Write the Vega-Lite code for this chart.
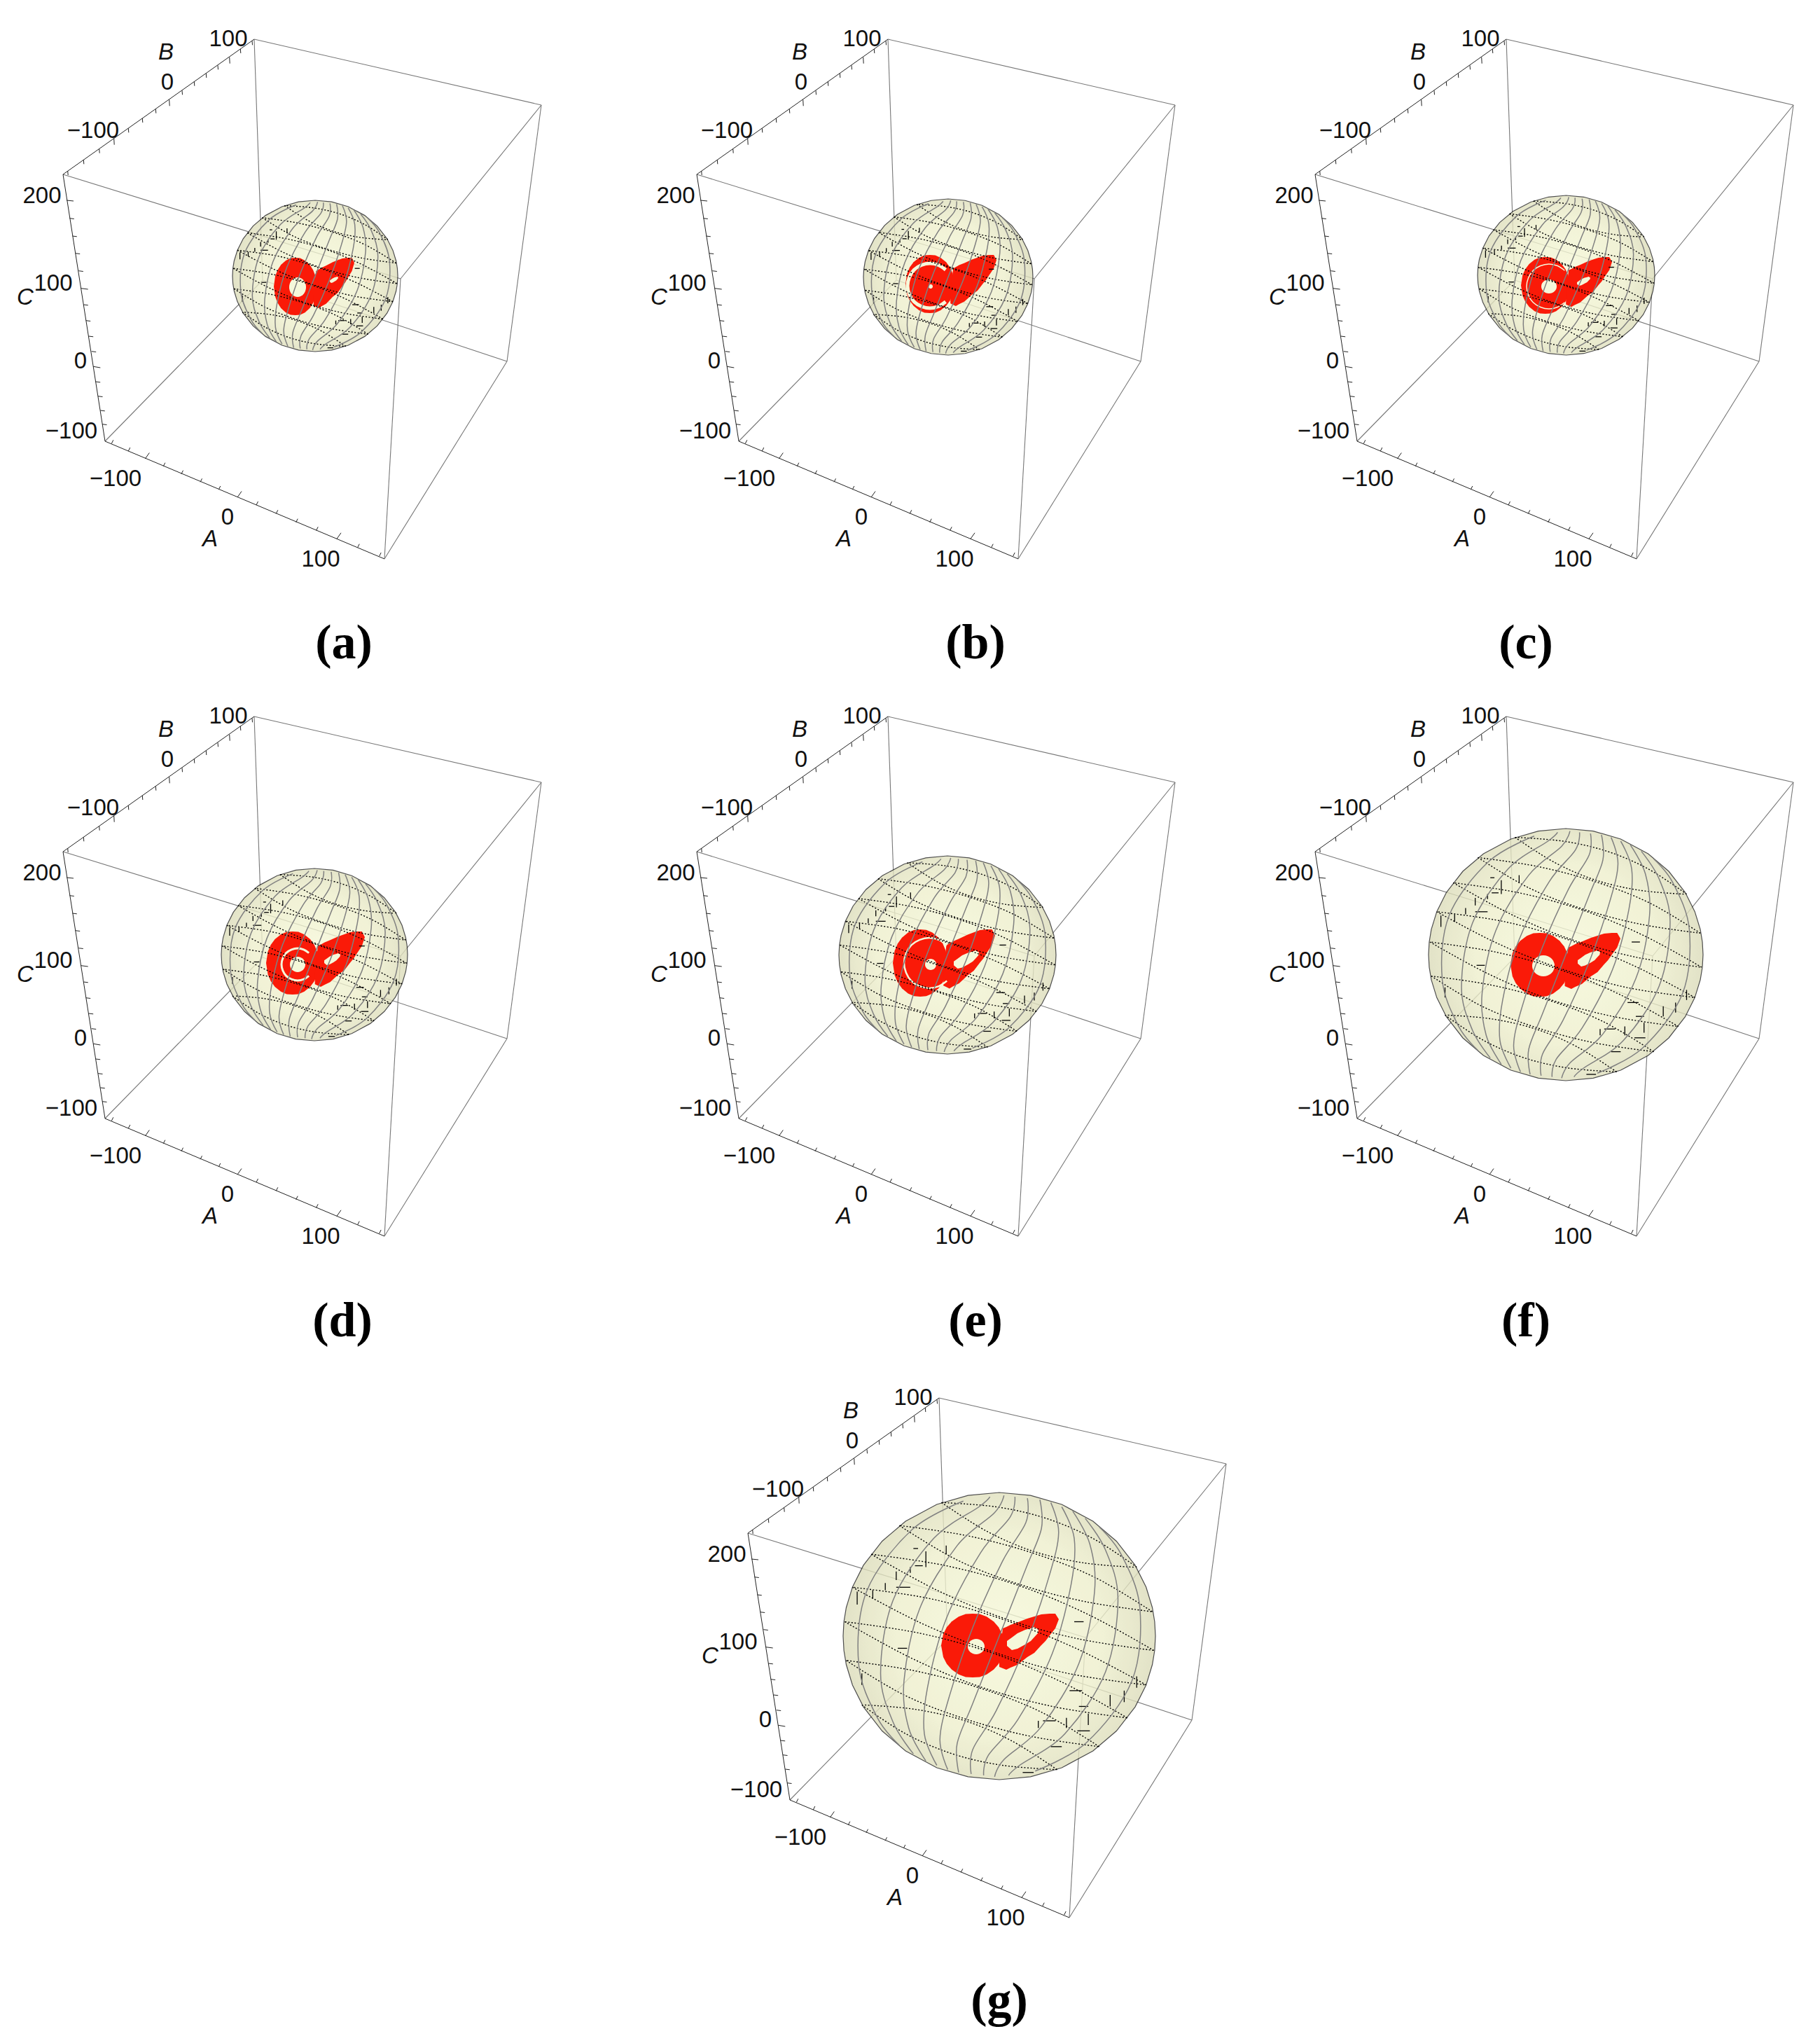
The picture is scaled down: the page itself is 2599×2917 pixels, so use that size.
{"$schema":"https://vega.github.io/schema/vega-lite/v6.json","width":2599,"height":2917,"padding":0,"autosize":"none","background":"white","config":{"view":{"stroke":null},"axis":{"disable":true},"legend":{"disable":true},"line":{"order":false}},"resolve":{"scale":{"x":"independent","y":"independent"}},
"datasets":{
"g":[{"x":363,"y":56,"u":773,"v":150},{"x":773,"y":150,"u":572,"v":398},{"x":90,"y":249,"u":572,"v":398},{"x":363,"y":56,"u":375,"v":400},{"x":773,"y":150,"u":724,"v":516},{"x":572,"y":398,"u":549,"v":798},{"x":150,"y":630,"u":375,"v":400},{"x":549,"y":798,"u":724,"v":516},{"x":724,"y":516,"u":375,"v":400}],
"k":[{"x":90,"y":249,"u":363,"v":56},{"x":90,"y":249,"u":150,"v":630},{"x":150,"y":630,"u":549,"v":798},
{"x":96.7,"y":244,"u":97.2,"v":250},{"x":119.3,"y":228.3,"u":119.8,"v":234.3},{"x":141.7,"y":212.7,"u":142.2,"v":218.7},{"x":162.7,"y":197.7,"u":163.2,"v":206.7},{"x":183.3,"y":183.3,"u":183.8,"v":189.3},{"x":203.3,"y":169,"u":203.8,"v":175},{"x":222.3,"y":155.7,"u":222.8,"v":161.7},{"x":241.7,"y":142.3,"u":242.2,"v":151.3},{"x":260,"y":129.3,"u":260.5,"v":135.3},{"x":277.3,"y":116.7,"u":277.8,"v":122.7},{"x":294.3,"y":105,"u":294.8,"v":111},{"x":311,"y":93.3,"u":311.5,"v":99.3},{"x":327.7,"y":81.7,"u":328.2,"v":90.7},{"x":343.3,"y":70,"u":343.8,"v":76},{"x":360,"y":58.3,"u":360.5,"v":64.3},
{"x":95,"y":286,"u":105,"v":287},{"x":99.3,"y":311.7,"u":105.8,"v":312.5},{"x":103.3,"y":337,"u":109.8,"v":337.8},{"x":107.7,"y":361.7,"u":114.2,"v":362.5},{"x":112.3,"y":386.7,"u":118.8,"v":387.5},{"x":115.7,"y":411.7,"u":125.7,"v":413},{"x":119.3,"y":435,"u":125.8,"v":435.8},{"x":122.7,"y":457.7,"u":129.2,"v":458.5},{"x":126.7,"y":480,"u":133.2,"v":480.8},{"x":130.7,"y":501.7,"u":137.2,"v":502.5},{"x":133.3,"y":523.3,"u":143.3,"v":525},{"x":136.7,"y":545,"u":143.2,"v":545.8},{"x":140,"y":565.7,"u":146.5,"v":566.5},{"x":143.3,"y":586,"u":149.8,"v":586.8},{"x":146,"y":605.7,"u":152.5,"v":606.5},
{"x":159.3,"y":633.3,"u":161.8,"v":628.3},{"x":183.3,"y":644,"u":185.8,"v":639},{"x":207.3,"y":655,"u":213.3,"v":646.5},{"x":233.3,"y":665.7,"u":235.8,"v":660.7},{"x":259,"y":676.7,"u":261.5,"v":671.7},{"x":286,"y":688.3,"u":288.5,"v":683.3},{"x":312.3,"y":699,"u":314.8,"v":694},{"x":339,"y":710,"u":345,"v":701.5},{"x":366,"y":721,"u":368.5,"v":716},{"x":394.3,"y":733.3,"u":396.8,"v":728.3},{"x":422.7,"y":745.7,"u":425.2,"v":740.7},{"x":451.7,"y":757.3,"u":454.2,"v":752.3},{"x":481,"y":769.3,"u":487,"v":760.8},{"x":510.7,"y":781.7,"u":513.2,"v":776.7},{"x":541.7,"y":794,"u":544.2,"v":789}],
"n":[{"x":326,"y":56,"s":"100"},{"x":239,"y":118,"s":"0"},{"x":133,"y":187,"s":"−100"},{"x":60,"y":280,"s":"200"},{"x":76,"y":405,"s":"100"},{"x":115,"y":516,"s":"0"},{"x":102,"y":616,"s":"−100"},{"x":165,"y":684,"s":"−100"},{"x":325,"y":739,"s":"0"},{"x":458,"y":799,"s":"100"}],
"i":[{"x":237,"y":75,"s":"B"},{"x":36,"y":425,"s":"C"},{"x":300,"y":770,"s":"A"}],
"cap":[{"x":491,"y":919,"s":"(a)"},{"x":1393,"y":919,"s":"(b)"},{"x":2179,"y":919,"s":"(c)"},{"x":489,"y":1887,"s":"(d)"},{"x":1393,"y":1887,"s":"(e)"},{"x":2179,"y":1887,"s":"(f)"},{"x":1427,"y":2858,"s":"(g)"}],
"o":[{"x":-1,"y":0,"v":0},{"x":-0.995,"y":-0.1,"v":0.1},{"x":-0.98,"y":-0.199,"v":0.199},{"x":-0.94,"y":-0.341,"v":0.341},{"x":-0.87,"y":-0.493,"v":0.493},{"x":-0.75,"y":-0.661,"v":0.661},{"x":-0.6,"y":-0.8,"v":0.8},{"x":-0.4,"y":-0.917,"v":0.917},{"x":-0.2,"y":-0.98,"v":0.98},{"x":0,"y":-1,"v":1},{"x":0.2,"y":-0.98,"v":0.98},{"x":0.4,"y":-0.917,"v":0.917},{"x":0.6,"y":-0.8,"v":0.8},{"x":0.75,"y":-0.661,"v":0.661},{"x":0.87,"y":-0.493,"v":0.493},{"x":0.94,"y":-0.341,"v":0.341},{"x":0.98,"y":-0.199,"v":0.199},{"x":0.995,"y":-0.1,"v":0.1},{"x":1,"y":0,"v":0}],
"r":[{"s":1,"x":0,"y":45.5,"v":45.5},{"s":1,"x":3,"y":29,"v":62},{"s":1,"x":8,"y":19.3,"v":71.7},{"s":1,"x":15,"y":11.2,"v":79.8},{"s":1,"x":25,"y":4.3,"v":86.7},{"s":1,"x":35,"y":0.6,"v":90.4},{"s":1,"x":45,"y":0,"v":91},{"s":1,"x":55,"y":0.6,"v":90.4},{"s":1,"x":65,"y":4.3,"v":86.7},{"s":1,"x":75,"y":11.2,"v":79.8},{"s":1,"x":82,"y":19.3,"v":71.7},{"s":1,"x":87,"y":29,"v":62},{"s":1,"x":90,"y":45.5,"v":45.5},
{"s":2,"x":83,"y":60,"v":76},{"s":2,"x":88,"y":21,"v":78},{"s":2,"x":93,"y":19,"v":80},{"s":2,"x":99,"y":16,"v":77},{"s":2,"x":109,"y":12.5,"v":73},{"s":2,"x":123,"y":7,"v":62},{"s":2,"x":133,"y":4,"v":56},{"s":2,"x":143,"y":1,"v":45},{"s":2,"x":149,"y":0.5,"v":39},{"s":2,"x":155,"y":0,"v":31},{"s":2,"x":163,"y":0,"v":21},{"s":2,"x":168,"y":8,"v":8}],
"q":[{"x":94,"y":39,"v":46},{"x":101,"y":34,"v":52},{"x":109,"y":28,"v":50},{"x":120,"y":23,"v":44},{"x":128,"y":21,"v":39},{"x":133,"y":19,"v":33.5},{"x":138,"y":22,"v":28},{"x":139,"y":23,"v":23}],
"c":[{"x":0.7,"y":-0.71},{"x":0.38,"y":-0.92},{"x":0,"y":-1},{"x":-0.38,"y":-0.92},{"x":-0.71,"y":-0.71},{"x":-0.92,"y":-0.38},{"x":-1,"y":0},{"x":-0.92,"y":0.38},{"x":-0.71,"y":0.71},{"x":-0.38,"y":0.92},{"x":0,"y":1},{"x":0.38,"y":0.92},{"x":0.7,"y":0.71}],
"b":[{"x":-0.54,"u":-0.49,"y":-0.49,"v":-0.49},{"x":-0.65,"u":-0.59,"y":0.085,"v":0.085},{"x":-0.66,"u":-0.57,"y":-0.34,"v":-0.34},{"x":-0.55,"u":-0.52,"y":-0.61,"v":-0.61},{"x":0.48,"u":0.54,"y":-0.1,"v":-0.1},{"x":0.45,"u":0.53,"y":0.38,"v":0.38},{"x":0.5,"u":0.58,"y":0.66,"v":0.66},{"x":0.33,"u":0.4,"y":0.77,"v":0.77},{"x":0.15,"u":0.22,"y":0.95,"v":0.95},{"x":0.51,"u":0.57,"y":0.49,"v":0.49},{"x":0.28,"u":0.36,"y":0.59,"v":0.59},
{"x":-0.66,"u":-0.66,"y":-0.45,"v":-0.39},{"x":-0.57,"u":-0.57,"y":-0.48,"v":-0.44},{"x":-0.73,"u":-0.73,"y":-0.37,"v":-0.32},{"x":-0.81,"u":-0.81,"y":-0.32,"v":-0.26},{"x":-0.88,"u":-0.88,"y":0.26,"v":0.34},{"x":-0.91,"u":-0.91,"y":-0.31,"v":-0.22},{"x":-0.47,"u":-0.47,"y":-0.59,"v":-0.48},{"x":0.8,"u":0.8,"y":0.38,"v":0.46},{"x":0.71,"u":0.71,"y":0.41,"v":0.49},{"x":0.43,"u":0.43,"y":0.57,"v":0.64},{"x":0.57,"u":0.57,"y":0.54,"v":0.62},{"x":0.25,"u":0.25,"y":0.59,"v":0.64},{"x":0.88,"u":0.88,"y":0.28,"v":0.36},{"x":-0.34,"u":-0.34,"y":-0.63,"v":-0.57}],
"m":[{"l":1,"x":-0.23,"y":-0.94},{"l":1,"x":-0.56,"y":-0.74},{"l":1,"x":-0.85,"y":-0.31},{"l":1,"x":-0.9,"y":0.2},{"l":1,"x":-0.78,"y":0.57},{"l":1,"x":-0.64,"y":0.76},
{"l":2,"x":-0.06,"y":-0.97},{"l":2,"x":-0.13,"y":-0.9},{"l":2,"x":-0.42,"y":-0.68},{"l":2,"x":-0.68,"y":-0.25},{"l":2,"x":-0.76,"y":0.26},{"l":2,"x":-0.68,"y":0.6},{"l":2,"x":-0.55,"y":0.82},
{"l":3,"x":0.03,"y":-0.98},{"l":3,"x":-0.03,"y":-0.86},{"l":3,"x":-0.27,"y":-0.63},{"l":3,"x":-0.51,"y":-0.19},{"l":3,"x":-0.61,"y":0.31},{"l":3,"x":-0.58,"y":0.64},{"l":3,"x":-0.47,"y":0.87},
{"l":4,"x":0.1,"y":-0.97},{"l":4,"x":0.07,"y":-0.83},{"l":4,"x":-0.12,"y":-0.58},{"l":4,"x":-0.34,"y":-0.12},{"l":4,"x":-0.46,"y":0.36},{"l":4,"x":-0.48,"y":0.68},{"l":4,"x":-0.4,"y":0.9},
{"l":5,"x":0.18,"y":-0.96},{"l":5,"x":0.17,"y":-0.79},{"l":5,"x":0.02,"y":-0.52},{"l":5,"x":-0.17,"y":-0.06},{"l":5,"x":-0.32,"y":0.42},{"l":5,"x":-0.38,"y":0.72},{"l":5,"x":-0.33,"y":0.93},
{"l":6,"x":0.26,"y":-0.95},{"l":6,"x":0.27,"y":-0.75},{"l":6,"x":0.17,"y":-0.47},{"l":6,"x":0,"y":0},{"l":6,"x":-0.17,"y":0.47},{"l":6,"x":-0.27,"y":0.75},{"l":6,"x":-0.26,"y":0.95},
{"l":7,"x":0.33,"y":-0.93},{"l":7,"x":0.38,"y":-0.72},{"l":7,"x":0.32,"y":-0.42},{"l":7,"x":0.17,"y":0.06},{"l":7,"x":-0.02,"y":0.52},{"l":7,"x":-0.17,"y":0.79},{"l":7,"x":-0.18,"y":0.96},
{"l":8,"x":0.4,"y":-0.9},{"l":8,"x":0.48,"y":-0.68},{"l":8,"x":0.46,"y":-0.36},{"l":8,"x":0.34,"y":0.12},{"l":8,"x":0.12,"y":0.58},{"l":8,"x":-0.07,"y":0.83},{"l":8,"x":-0.1,"y":0.97},
{"l":9,"x":0.47,"y":-0.87},{"l":9,"x":0.58,"y":-0.64},{"l":9,"x":0.61,"y":-0.31},{"l":9,"x":0.51,"y":0.19},{"l":9,"x":0.27,"y":0.63},{"l":9,"x":0.03,"y":0.86},{"l":9,"x":-0.03,"y":0.98},
{"l":10,"x":0.55,"y":-0.82},{"l":10,"x":0.68,"y":-0.6},{"l":10,"x":0.76,"y":-0.26},{"l":10,"x":0.68,"y":0.25},{"l":10,"x":0.42,"y":0.68},{"l":10,"x":0.13,"y":0.9},{"l":10,"x":0.06,"y":0.97},
{"l":11,"x":0.64,"y":-0.76},{"l":11,"x":0.78,"y":-0.57},{"l":11,"x":0.9,"y":-0.2},{"l":11,"x":0.85,"y":0.31},{"l":11,"x":0.56,"y":0.74},{"l":11,"x":0.23,"y":0.94}],
"d":[{"l":1,"x":-0.37,"y":-0.93},{"l":1,"x":-0.08,"y":-0.73},{"l":1,"x":0.22,"y":-0.59},{"l":1,"x":0.54,"y":-0.51},{"l":1,"x":0.86,"y":-0.48},
{"l":2,"x":-0.64,"y":-0.77},{"l":2,"x":-0.27,"y":-0.53},{"l":2,"x":0.13,"y":-0.36},{"l":2,"x":0.55,"y":-0.24},{"l":2,"x":0.98,"y":-0.17},
{"l":3,"x":-0.82,"y":-0.57},{"l":3,"x":-0.4,"y":-0.32},{"l":3,"x":0.04,"y":-0.12},{"l":3,"x":0.51,"y":0.02},{"l":3,"x":0.99,"y":0.1},
{"l":4,"x":-0.94,"y":-0.34},{"l":4,"x":-0.5,"y":-0.09},{"l":4,"x":-0.04,"y":0.11},{"l":4,"x":0.44,"y":0.26},{"l":4,"x":0.94,"y":0.34},
{"l":5,"x":-0.99,"y":-0.1},{"l":5,"x":-0.57,"y":0.15},{"l":5,"x":-0.13,"y":0.35},{"l":5,"x":0.34,"y":0.49},{"l":5,"x":0.82,"y":0.57},
{"l":6,"x":-0.98,"y":0.17},{"l":6,"x":-0.61,"y":0.41},{"l":6,"x":-0.21,"y":0.58},{"l":6,"x":0.21,"y":0.7},{"l":6,"x":0.64,"y":0.77},
{"l":7,"x":-0.88,"y":0.48},{"l":7,"x":-0.6,"y":0.68},{"l":7,"x":-0.3,"y":0.82},{"l":7,"x":0.02,"y":0.9},{"l":7,"x":0.37,"y":0.93},
{"l":8,"x":0.37,"y":0.93},{"l":8,"x":0.08,"y":0.73},{"l":8,"x":-0.22,"y":0.59},{"l":8,"x":-0.54,"y":0.51},{"l":8,"x":-0.86,"y":0.48},
{"l":9,"x":0.64,"y":0.77},{"l":9,"x":0.27,"y":0.53},{"l":9,"x":-0.13,"y":0.36},{"l":9,"x":-0.55,"y":0.24},{"l":9,"x":-0.98,"y":0.17},
{"l":10,"x":0.82,"y":0.57},{"l":10,"x":0.4,"y":0.32},{"l":10,"x":-0.04,"y":0.12},{"l":10,"x":-0.51,"y":-0.02},{"l":10,"x":-0.99,"y":-0.1},
{"l":11,"x":0.94,"y":0.34},{"l":11,"x":0.5,"y":0.09},{"l":11,"x":0.04,"y":-0.11},{"l":11,"x":-0.44,"y":-0.26},{"l":11,"x":-0.94,"y":-0.34},
{"l":12,"x":0.99,"y":0.1},{"l":12,"x":0.57,"y":-0.15},{"l":12,"x":0.13,"y":-0.35},{"l":12,"x":-0.34,"y":-0.49},{"l":12,"x":-0.82,"y":-0.57},
{"l":13,"x":0.98,"y":-0.17},{"l":13,"x":0.61,"y":-0.41},{"l":13,"x":0.21,"y":-0.58},{"l":13,"x":-0.21,"y":-0.7},{"l":13,"x":-0.64,"y":-0.77},
{"l":14,"x":0.88,"y":-0.48},{"l":14,"x":0.6,"y":-0.68},{"l":14,"x":0.3,"y":-0.82},{"l":14,"x":-0.02,"y":-0.9},{"l":14,"x":-0.37,"y":-0.93}]
},
"layer":[
{"encoding":{"x":{"field":"x","type":"quantitative","scale":{"domain":[0,1000],"range":[0,1000]}},"y":{"field":"y","type":"quantitative","scale":{"domain":[0,1000],"range":[0,1000]}}},"layer":[{"data":{"name":"g"},"mark":{"type":"rule","color":"#777","strokeWidth":1.1},"encoding":{"x2":{"field":"u"},"y2":{"field":"v"}}},{"data":{"name":"k"},"mark":{"type":"rule","color":"#222","strokeWidth":1},"encoding":{"x2":{"field":"u"},"y2":{"field":"v"}}},{"data":{"name":"n"},"mark":{"type":"text","font":"Liberation Sans","fontSize":33,"color":"#111"},"encoding":{"text":{"field":"s"}}},{"data":{"name":"i"},"mark":{"type":"text","font":"Liberation Sans","fontStyle":"italic","fontSize":33,"color":"#111"},"encoding":{"text":{"field":"s"}}}]},
{"encoding":{"x":{"field":"x","type":"quantitative","scale":{"domain":[0,1000],"range":[905,1905]}},"y":{"field":"y","type":"quantitative","scale":{"domain":[0,1000],"range":[0,1000]}}},"layer":[{"data":{"name":"g"},"mark":{"type":"rule","color":"#777","strokeWidth":1.1},"encoding":{"x2":{"field":"u"},"y2":{"field":"v"}}},{"data":{"name":"k"},"mark":{"type":"rule","color":"#222","strokeWidth":1},"encoding":{"x2":{"field":"u"},"y2":{"field":"v"}}},{"data":{"name":"n"},"mark":{"type":"text","font":"Liberation Sans","fontSize":33,"color":"#111"},"encoding":{"text":{"field":"s"}}},{"data":{"name":"i"},"mark":{"type":"text","font":"Liberation Sans","fontStyle":"italic","fontSize":33,"color":"#111"},"encoding":{"text":{"field":"s"}}}]},
{"encoding":{"x":{"field":"x","type":"quantitative","scale":{"domain":[0,1000],"range":[1788,2788]}},"y":{"field":"y","type":"quantitative","scale":{"domain":[0,1000],"range":[0,1000]}}},"layer":[{"data":{"name":"g"},"mark":{"type":"rule","color":"#777","strokeWidth":1.1},"encoding":{"x2":{"field":"u"},"y2":{"field":"v"}}},{"data":{"name":"k"},"mark":{"type":"rule","color":"#222","strokeWidth":1},"encoding":{"x2":{"field":"u"},"y2":{"field":"v"}}},{"data":{"name":"n"},"mark":{"type":"text","font":"Liberation Sans","fontSize":33,"color":"#111"},"encoding":{"text":{"field":"s"}}},{"data":{"name":"i"},"mark":{"type":"text","font":"Liberation Sans","fontStyle":"italic","fontSize":33,"color":"#111"},"encoding":{"text":{"field":"s"}}}]},
{"encoding":{"x":{"field":"x","type":"quantitative","scale":{"domain":[0,1000],"range":[0,1000]}},"y":{"field":"y","type":"quantitative","scale":{"domain":[0,1000],"range":[967,1967]}}},"layer":[{"data":{"name":"g"},"mark":{"type":"rule","color":"#777","strokeWidth":1.1},"encoding":{"x2":{"field":"u"},"y2":{"field":"v"}}},{"data":{"name":"k"},"mark":{"type":"rule","color":"#222","strokeWidth":1},"encoding":{"x2":{"field":"u"},"y2":{"field":"v"}}},{"data":{"name":"n"},"mark":{"type":"text","font":"Liberation Sans","fontSize":33,"color":"#111"},"encoding":{"text":{"field":"s"}}},{"data":{"name":"i"},"mark":{"type":"text","font":"Liberation Sans","fontStyle":"italic","fontSize":33,"color":"#111"},"encoding":{"text":{"field":"s"}}}]},
{"encoding":{"x":{"field":"x","type":"quantitative","scale":{"domain":[0,1000],"range":[905,1905]}},"y":{"field":"y","type":"quantitative","scale":{"domain":[0,1000],"range":[967,1967]}}},"layer":[{"data":{"name":"g"},"mark":{"type":"rule","color":"#777","strokeWidth":1.1},"encoding":{"x2":{"field":"u"},"y2":{"field":"v"}}},{"data":{"name":"k"},"mark":{"type":"rule","color":"#222","strokeWidth":1},"encoding":{"x2":{"field":"u"},"y2":{"field":"v"}}},{"data":{"name":"n"},"mark":{"type":"text","font":"Liberation Sans","fontSize":33,"color":"#111"},"encoding":{"text":{"field":"s"}}},{"data":{"name":"i"},"mark":{"type":"text","font":"Liberation Sans","fontStyle":"italic","fontSize":33,"color":"#111"},"encoding":{"text":{"field":"s"}}}]},
{"encoding":{"x":{"field":"x","type":"quantitative","scale":{"domain":[0,1000],"range":[1788,2788]}},"y":{"field":"y","type":"quantitative","scale":{"domain":[0,1000],"range":[967,1967]}}},"layer":[{"data":{"name":"g"},"mark":{"type":"rule","color":"#777","strokeWidth":1.1},"encoding":{"x2":{"field":"u"},"y2":{"field":"v"}}},{"data":{"name":"k"},"mark":{"type":"rule","color":"#222","strokeWidth":1},"encoding":{"x2":{"field":"u"},"y2":{"field":"v"}}},{"data":{"name":"n"},"mark":{"type":"text","font":"Liberation Sans","fontSize":33,"color":"#111"},"encoding":{"text":{"field":"s"}}},{"data":{"name":"i"},"mark":{"type":"text","font":"Liberation Sans","fontStyle":"italic","fontSize":33,"color":"#111"},"encoding":{"text":{"field":"s"}}}]},
{"encoding":{"x":{"field":"x","type":"quantitative","scale":{"domain":[0,1000],"range":[978,1978]}},"y":{"field":"y","type":"quantitative","scale":{"domain":[0,1000],"range":[1940,2940]}}},"layer":[{"data":{"name":"g"},"mark":{"type":"rule","color":"#777","strokeWidth":1.1},"encoding":{"x2":{"field":"u"},"y2":{"field":"v"}}},{"data":{"name":"k"},"mark":{"type":"rule","color":"#222","strokeWidth":1},"encoding":{"x2":{"field":"u"},"y2":{"field":"v"}}},{"data":{"name":"n"},"mark":{"type":"text","font":"Liberation Sans","fontSize":33,"color":"#111"},"encoding":{"text":{"field":"s"}}},{"data":{"name":"i"},"mark":{"type":"text","font":"Liberation Sans","fontStyle":"italic","fontSize":33,"color":"#111"},"encoding":{"text":{"field":"s"}}}]},

{"data":{"name":"o"},"mark":{"type":"area","opacity":0.8,"stroke":"#222","strokeWidth":1.2,"color":{"gradient":"radial","x1":0.5,"y1":0.5,"x2":0.5,"y2":0.5,"r1":0,"r2":0.55,"stops":[{"offset":0,"color":"#f6f9d8"},{"offset":0.6,"color":"#eeefcc"},{"offset":1,"color":"#d6d6b4"}]}},"encoding":{"x":{"field":"x","type":"quantitative","scale":{"domain":[-1,1],"range":[332,568]}},"y":{"field":"y","type":"quantitative","scale":{"domain":[-1,1],"range":[286,502]}},"y2":{"field":"v"}}},
{"data":{"name":"o"},"mark":{"type":"area","opacity":0.8,"stroke":"#222","strokeWidth":1.2,"color":{"gradient":"radial","x1":0.5,"y1":0.5,"x2":0.5,"y2":0.5,"r1":0,"r2":0.55,"stops":[{"offset":0,"color":"#f6f9d8"},{"offset":0.6,"color":"#eeefcc"},{"offset":1,"color":"#d6d6b4"}]}},"encoding":{"x":{"field":"x","type":"quantitative","scale":{"domain":[-1,1],"range":[1233,1475]}},"y":{"field":"y","type":"quantitative","scale":{"domain":[-1,1],"range":[284,507]}},"y2":{"field":"v"}}},
{"data":{"name":"o"},"mark":{"type":"area","opacity":0.8,"stroke":"#222","strokeWidth":1.2,"color":{"gradient":"radial","x1":0.5,"y1":0.5,"x2":0.5,"y2":0.5,"r1":0,"r2":0.55,"stops":[{"offset":0,"color":"#f6f9d8"},{"offset":0.6,"color":"#eeefcc"},{"offset":1,"color":"#d6d6b4"}]}},"encoding":{"x":{"field":"x","type":"quantitative","scale":{"domain":[-1,1],"range":[2110,2363]}},"y":{"field":"y","type":"quantitative","scale":{"domain":[-1,1],"range":[279,507]}},"y2":{"field":"v"}}},
{"data":{"name":"o"},"mark":{"type":"area","opacity":0.8,"stroke":"#222","strokeWidth":1.2,"color":{"gradient":"radial","x1":0.5,"y1":0.5,"x2":0.5,"y2":0.5,"r1":0,"r2":0.55,"stops":[{"offset":0,"color":"#f6f9d8"},{"offset":0.6,"color":"#eeefcc"},{"offset":1,"color":"#d6d6b4"}]}},"encoding":{"x":{"field":"x","type":"quantitative","scale":{"domain":[-1,1],"range":[316,582]}},"y":{"field":"y","type":"quantitative","scale":{"domain":[-1,1],"range":[1240,1486]}},"y2":{"field":"v"}}},
{"data":{"name":"o"},"mark":{"type":"area","opacity":0.8,"stroke":"#222","strokeWidth":1.2,"color":{"gradient":"radial","x1":0.5,"y1":0.5,"x2":0.5,"y2":0.5,"r1":0,"r2":0.55,"stops":[{"offset":0,"color":"#f6f9d8"},{"offset":0.6,"color":"#eeefcc"},{"offset":1,"color":"#d6d6b4"}]}},"encoding":{"x":{"field":"x","type":"quantitative","scale":{"domain":[-1,1],"range":[1198,1508]}},"y":{"field":"y","type":"quantitative","scale":{"domain":[-1,1],"range":[1222,1505]}},"y2":{"field":"v"}}},
{"data":{"name":"o"},"mark":{"type":"area","opacity":0.8,"stroke":"#222","strokeWidth":1.2,"color":{"gradient":"radial","x1":0.5,"y1":0.5,"x2":0.5,"y2":0.5,"r1":0,"r2":0.55,"stops":[{"offset":0,"color":"#f6f9d8"},{"offset":0.6,"color":"#eeefcc"},{"offset":1,"color":"#d6d6b4"}]}},"encoding":{"x":{"field":"x","type":"quantitative","scale":{"domain":[-1,1],"range":[2040,2432]}},"y":{"field":"y","type":"quantitative","scale":{"domain":[-1,1],"range":[1183,1543]}},"y2":{"field":"v"}}},
{"data":{"name":"o"},"mark":{"type":"area","opacity":0.8,"stroke":"#222","strokeWidth":1.2,"color":{"gradient":"radial","x1":0.5,"y1":0.5,"x2":0.5,"y2":0.5,"r1":0,"r2":0.55,"stops":[{"offset":0,"color":"#f6f9d8"},{"offset":0.6,"color":"#eeefcc"},{"offset":1,"color":"#d6d6b4"}]}},"encoding":{"x":{"field":"x","type":"quantitative","scale":{"domain":[-1,1],"range":[1204,1650]}},"y":{"field":"y","type":"quantitative","scale":{"domain":[-1,1],"range":[2131,2541]}},"y2":{"field":"v"}}},

{"data":{"name":"r"},"mark":{"type":"area","color":"#fa1a08"},"encoding":{"detail":{"field":"s"},"x":{"field":"x","type":"quantitative","scale":{"domain":[0,168],"range":[391,506]}},"y":{"field":"y","type":"quantitative","scale":{"domain":[0,91],"range":[368,450]}},"y2":{"field":"v"}}},
{"data":{"name":"r"},"mark":{"type":"area","color":"#fa1a08"},"encoding":{"detail":{"field":"s"},"x":{"field":"x","type":"quantitative","scale":{"domain":[0,168],"range":[1293,1423]}},"y":{"field":"y","type":"quantitative","scale":{"domain":[0,91],"range":[364,447]}},"y2":{"field":"v"}}},
{"data":{"name":"r"},"mark":{"type":"area","color":"#fa1a08"},"encoding":{"detail":{"field":"s"},"x":{"field":"x","type":"quantitative","scale":{"domain":[0,168],"range":[2172,2302]}},"y":{"field":"y","type":"quantitative","scale":{"domain":[0,91],"range":[367,448]}},"y2":{"field":"v"}}},
{"data":{"name":"r"},"mark":{"type":"area","color":"#fa1a08"},"encoding":{"detail":{"field":"s"},"x":{"field":"x","type":"quantitative","scale":{"domain":[0,168],"range":[380,521]}},"y":{"field":"y","type":"quantitative","scale":{"domain":[0,91],"range":[1330,1420]}},"y2":{"field":"v"}}},
{"data":{"name":"r"},"mark":{"type":"area","color":"#fa1a08"},"encoding":{"detail":{"field":"s"},"x":{"field":"x","type":"quantitative","scale":{"domain":[0,168],"range":[1275,1421]}},"y":{"field":"y","type":"quantitative","scale":{"domain":[0,91],"range":[1327,1423]}},"y2":{"field":"v"}}},
{"data":{"name":"r"},"mark":{"type":"area","color":"#fa1a08"},"encoding":{"detail":{"field":"s"},"x":{"field":"x","type":"quantitative","scale":{"domain":[0,168],"range":[2157,2314]}},"y":{"field":"y","type":"quantitative","scale":{"domain":[0,91],"range":[1332,1423]}},"y2":{"field":"v"}}},
{"data":{"name":"r"},"mark":{"type":"area","color":"#fa1a08"},"encoding":{"detail":{"field":"s"},"x":{"field":"x","type":"quantitative","scale":{"domain":[0,168],"range":[1344,1512]}},"y":{"field":"y","type":"quantitative","scale":{"domain":[0,91],"range":[2304,2395]}},"y2":{"field":"v"}}},

{"data":{"name":"o"},"mark":{"type":"area","color":"#f5f8da"},"encoding":{"x":{"field":"x","type":"quantitative","scale":{"domain":[-1,1],"range":[413,437]}},"y":{"field":"y","type":"quantitative","scale":{"domain":[-1,1],"range":[396,424]}},"y2":{"field":"v"}}},
{"data":{"name":"o"},"mark":{"type":"area","color":"#f5f8da"},"encoding":{"x":{"field":"x","type":"quantitative","scale":{"domain":[-1,1],"range":[1326,1332]}},"y":{"field":"y","type":"quantitative","scale":{"domain":[-1,1],"range":[406,412]}},"y2":{"field":"v"}}},
{"data":{"name":"o"},"mark":{"type":"area","color":"#f5f8da"},"encoding":{"x":{"field":"x","type":"quantitative","scale":{"domain":[-1,1],"range":[2201,2223]}},"y":{"field":"y","type":"quantitative","scale":{"domain":[-1,1],"range":[399,419]}},"y2":{"field":"v"}}},
{"data":{"name":"o"},"mark":{"type":"area","color":"#f5f8da"},"encoding":{"x":{"field":"x","type":"quantitative","scale":{"domain":[-1,1],"range":[414,436]}},"y":{"field":"y","type":"quantitative","scale":{"domain":[-1,1],"range":[1366,1388]}},"y2":{"field":"v"}}},
{"data":{"name":"o"},"mark":{"type":"area","color":"#f5f8da"},"encoding":{"x":{"field":"x","type":"quantitative","scale":{"domain":[-1,1],"range":[1321,1337]}},"y":{"field":"y","type":"quantitative","scale":{"domain":[-1,1],"range":[1369,1385]}},"y2":{"field":"v"}}},
{"data":{"name":"o"},"mark":{"type":"area","color":"#f5f8da"},"encoding":{"x":{"field":"x","type":"quantitative","scale":{"domain":[-1,1],"range":[2188,2220]}},"y":{"field":"y","type":"quantitative","scale":{"domain":[-1,1],"range":[1364,1394]}},"y2":{"field":"v"}}},
{"data":{"name":"o"},"mark":{"type":"area","color":"#f5f8da"},"encoding":{"x":{"field":"x","type":"quantitative","scale":{"domain":[-1,1],"range":[1382,1406]}},"y":{"field":"y","type":"quantitative","scale":{"domain":[-1,1],"range":[2340,2362]}},"y2":{"field":"v"}}},

{"data":{"name":"q"},"mark":{"type":"area","color":"#f5f8da"},"encoding":{"x":{"field":"x","type":"quantitative","scale":{"domain":[94,139],"range":[471,483]}},"y":{"field":"y","type":"quantitative","scale":{"domain":[19,52],"range":[395,404]}},"y2":{"field":"v"}}},
{"data":{"name":"q"},"mark":{"type":"area","color":"#f5f8da"},"encoding":{"x":{"field":"x","type":"quantitative","scale":{"domain":[94,139],"range":[2252,2271]}},"y":{"field":"y","type":"quantitative","scale":{"domain":[19,52],"range":[395,408]}},"y2":{"field":"v"}}},
{"data":{"name":"q"},"mark":{"type":"area","color":"#f5f8da"},"encoding":{"x":{"field":"x","type":"quantitative","scale":{"domain":[94,139],"range":[463,486]}},"y":{"field":"y","type":"quantitative","scale":{"domain":[19,52],"range":[1361,1378]}},"y2":{"field":"v"}}},
{"data":{"name":"q"},"mark":{"type":"area","color":"#f5f8da"},"encoding":{"x":{"field":"x","type":"quantitative","scale":{"domain":[94,139],"range":[1362,1398]}},"y":{"field":"y","type":"quantitative","scale":{"domain":[19,52],"range":[1357,1383]}},"y2":{"field":"v"}}},
{"data":{"name":"q"},"mark":{"type":"area","color":"#f5f8da"},"encoding":{"x":{"field":"x","type":"quantitative","scale":{"domain":[94,139],"range":[2253,2285]}},"y":{"field":"y","type":"quantitative","scale":{"domain":[19,52],"range":[1357,1380]}},"y2":{"field":"v"}}},
{"data":{"name":"q"},"mark":{"type":"area","color":"#f5f8da"},"encoding":{"x":{"field":"x","type":"quantitative","scale":{"domain":[94,139],"range":[1438,1483]}},"y":{"field":"y","type":"quantitative","scale":{"domain":[19,52],"range":[2323,2356]}},"y2":{"field":"v"}}},

{"data":{"name":"c"},"mark":{"type":"line","color":"#f5f8da","strokeWidth":5,"interpolate":"cardinal"},"encoding":{"x":{"field":"x","type":"quantitative","scale":{"domain":[-1,1],"range":[1296,1360]}},"y":{"field":"y","type":"quantitative","scale":{"domain":[-1,1],"range":[376,440]}}}},
{"data":{"name":"c"},"mark":{"type":"line","color":"#f5f8da","strokeWidth":1.5,"interpolate":"cardinal"},"encoding":{"x":{"field":"x","type":"quantitative","scale":{"domain":[-1,1],"range":[2180,2244]}},"y":{"field":"y","type":"quantitative","scale":{"domain":[-1,1],"range":[377,441]}}}},
{"data":{"name":"c"},"mark":{"type":"line","color":"#f5f8da","strokeWidth":3,"interpolate":"cardinal"},"encoding":{"x":{"field":"x","type":"quantitative","scale":{"domain":[-1,1],"range":[402,448]}},"y":{"field":"y","type":"quantitative","scale":{"domain":[-1,1],"range":[1354,1400]}}}},
{"data":{"name":"c"},"mark":{"type":"line","color":"#f5f8da","strokeWidth":2.5,"interpolate":"cardinal"},"encoding":{"x":{"field":"x","type":"quantitative","scale":{"domain":[-1,1],"range":[1291,1363]}},"y":{"field":"y","type":"quantitative","scale":{"domain":[-1,1],"range":[1339,1411]}}}},

{"encoding":{"x":{"field":"x","type":"quantitative","scale":{"domain":[-1,1],"range":[332,568]}},"y":{"field":"y","type":"quantitative","scale":{"domain":[-1,1],"range":[286,502]}}},"layer":[{"data":{"name":"d"},"mark":{"type":"line","color":"#000","strokeWidth":1.4,"strokeDash":[2,2.5],"interpolate":"cardinal"},"encoding":{"detail":{"field":"l"}}},{"data":{"name":"b"},"mark":{"type":"rule","color":"#000","strokeWidth":1.3},"encoding":{"x2":{"field":"u"},"y2":{"field":"v"}}},{"data":{"name":"m"},"mark":{"type":"line","color":"#808080","strokeWidth":1.5,"interpolate":"cardinal"},"encoding":{"detail":{"field":"l"}}}]},
{"encoding":{"x":{"field":"x","type":"quantitative","scale":{"domain":[-1,1],"range":[1233,1475]}},"y":{"field":"y","type":"quantitative","scale":{"domain":[-1,1],"range":[284,507]}}},"layer":[{"data":{"name":"d"},"mark":{"type":"line","color":"#000","strokeWidth":1.4,"strokeDash":[2,2.5],"interpolate":"cardinal"},"encoding":{"detail":{"field":"l"}}},{"data":{"name":"b"},"mark":{"type":"rule","color":"#000","strokeWidth":1.3},"encoding":{"x2":{"field":"u"},"y2":{"field":"v"}}},{"data":{"name":"m"},"mark":{"type":"line","color":"#808080","strokeWidth":1.5,"interpolate":"cardinal"},"encoding":{"detail":{"field":"l"}}}]},
{"encoding":{"x":{"field":"x","type":"quantitative","scale":{"domain":[-1,1],"range":[2110,2363]}},"y":{"field":"y","type":"quantitative","scale":{"domain":[-1,1],"range":[279,507]}}},"layer":[{"data":{"name":"d"},"mark":{"type":"line","color":"#000","strokeWidth":1.4,"strokeDash":[2,2.5],"interpolate":"cardinal"},"encoding":{"detail":{"field":"l"}}},{"data":{"name":"b"},"mark":{"type":"rule","color":"#000","strokeWidth":1.3},"encoding":{"x2":{"field":"u"},"y2":{"field":"v"}}},{"data":{"name":"m"},"mark":{"type":"line","color":"#808080","strokeWidth":1.5,"interpolate":"cardinal"},"encoding":{"detail":{"field":"l"}}}]},
{"encoding":{"x":{"field":"x","type":"quantitative","scale":{"domain":[-1,1],"range":[316,582]}},"y":{"field":"y","type":"quantitative","scale":{"domain":[-1,1],"range":[1240,1486]}}},"layer":[{"data":{"name":"d"},"mark":{"type":"line","color":"#000","strokeWidth":1.4,"strokeDash":[2,2.5],"interpolate":"cardinal"},"encoding":{"detail":{"field":"l"}}},{"data":{"name":"b"},"mark":{"type":"rule","color":"#000","strokeWidth":1.3},"encoding":{"x2":{"field":"u"},"y2":{"field":"v"}}},{"data":{"name":"m"},"mark":{"type":"line","color":"#808080","strokeWidth":1.5,"interpolate":"cardinal"},"encoding":{"detail":{"field":"l"}}}]},
{"encoding":{"x":{"field":"x","type":"quantitative","scale":{"domain":[-1,1],"range":[1198,1508]}},"y":{"field":"y","type":"quantitative","scale":{"domain":[-1,1],"range":[1222,1505]}}},"layer":[{"data":{"name":"d"},"mark":{"type":"line","color":"#000","strokeWidth":1.4,"strokeDash":[2,2.5],"interpolate":"cardinal"},"encoding":{"detail":{"field":"l"}}},{"data":{"name":"b"},"mark":{"type":"rule","color":"#000","strokeWidth":1.3},"encoding":{"x2":{"field":"u"},"y2":{"field":"v"}}},{"data":{"name":"m"},"mark":{"type":"line","color":"#808080","strokeWidth":1.5,"interpolate":"cardinal"},"encoding":{"detail":{"field":"l"}}}]},
{"encoding":{"x":{"field":"x","type":"quantitative","scale":{"domain":[-1,1],"range":[2040,2432]}},"y":{"field":"y","type":"quantitative","scale":{"domain":[-1,1],"range":[1183,1543]}}},"layer":[{"data":{"name":"d"},"mark":{"type":"line","color":"#000","strokeWidth":1.4,"strokeDash":[2,2.5],"interpolate":"cardinal"},"encoding":{"detail":{"field":"l"}}},{"data":{"name":"b"},"mark":{"type":"rule","color":"#000","strokeWidth":1.3},"encoding":{"x2":{"field":"u"},"y2":{"field":"v"}}},{"data":{"name":"m"},"mark":{"type":"line","color":"#808080","strokeWidth":1.5,"interpolate":"cardinal"},"encoding":{"detail":{"field":"l"}}}]},
{"encoding":{"x":{"field":"x","type":"quantitative","scale":{"domain":[-1,1],"range":[1204,1650]}},"y":{"field":"y","type":"quantitative","scale":{"domain":[-1,1],"range":[2131,2541]}}},"layer":[{"data":{"name":"d"},"mark":{"type":"line","color":"#000","strokeWidth":1.4,"strokeDash":[2,2.5],"interpolate":"cardinal"},"encoding":{"detail":{"field":"l"}}},{"data":{"name":"b"},"mark":{"type":"rule","color":"#000","strokeWidth":1.3},"encoding":{"x2":{"field":"u"},"y2":{"field":"v"}}},{"data":{"name":"m"},"mark":{"type":"line","color":"#808080","strokeWidth":1.5,"interpolate":"cardinal"},"encoding":{"detail":{"field":"l"}}}]},

{"data":{"name":"cap"},"mark":{"type":"text","font":"Liberation Serif","fontWeight":"bold","fontSize":70,"color":"#000"},"encoding":{"x":{"field":"x","type":"quantitative","scale":{"domain":[0,1000],"range":[0,1000]}},"y":{"field":"y","type":"quantitative","scale":{"domain":[0,1000],"range":[0,1000]}},"text":{"field":"s"}}}
]}
